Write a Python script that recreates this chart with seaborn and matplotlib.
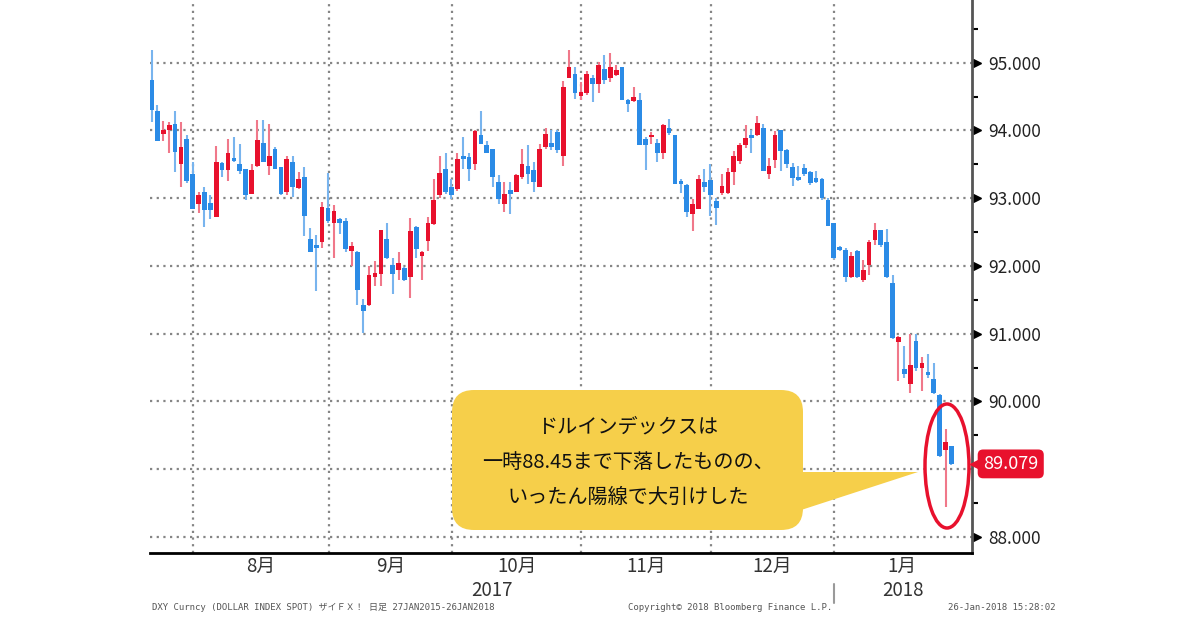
import numpy as np
import pandas as pd
import matplotlib
matplotlib.use("Agg")
import matplotlib.pyplot as plt
from matplotlib.patches import FancyBboxPatch, Polygon, Ellipse
import seaborn as sns

# daily DXY candles, 20 Jul 2017 - 26 Jan 2018 (weekdays)
START, END = "2017-07-20", "2018-01-26"

open_ = [94.75, 94.28, 93.95, 94.01, 94.10, 93.51, 93.88, 93.36, 92.92, 93.09,
         92.93, 92.72, 93.52, 93.41, 93.58, 93.51, 93.43, 93.06, 93.48, 93.81,
         93.48, 93.73, 93.46, 93.09, 93.53, 93.15, 93.31, 92.40, 92.31, 92.36,
         92.86, 92.64, 92.69, 92.67, 92.22, 92.20, 91.43, 91.43, 91.84, 91.88,
         92.40, 92.02, 91.94, 91.97, 91.83, 92.58, 92.15, 92.37, 92.62, 93.05,
         93.43, 93.16, 93.14, 93.63, 93.61, 93.50, 93.93, 93.78, 93.73, 93.24,
         92.91, 93.12, 93.09, 93.31, 93.48, 93.41, 93.16, 93.76, 93.81, 93.98,
         93.63, 94.77, 94.84, 94.51, 94.55, 94.77, 94.69, 94.90, 94.77, 94.82,
         94.94, 94.45, 94.44, 94.45, 93.87, 93.90, 93.81, 93.66, 94.03, 93.93,
         93.26, 93.19, 92.77, 92.84, 93.24, 93.27, 92.96, 93.07, 93.07, 93.38,
         93.55, 93.79, 93.94, 93.94, 94.04, 93.35, 93.57, 94.00, 93.71, 93.46,
         93.31, 93.45, 93.38, 93.30, 93.28, 92.98, 92.64, 92.28, 92.23, 91.84,
         92.22, 91.79, 92.01, 92.38, 92.53, 92.36, 91.75, 90.88, 90.48, 90.26,
         90.89, 90.50, 90.43, 90.33, 90.09, 89.29, 89.34]
high = [95.19, 94.37, 94.14, 94.13, 94.29, 94.13, 93.94, 93.53, 93.09, 93.16,
        93.04, 93.77, 93.53, 93.88, 93.90, 93.80, 93.43, 93.50, 94.16, 94.16,
        94.09, 93.76, 93.46, 93.62, 93.63, 93.39, 93.46, 92.56, 92.46, 92.94,
        93.37, 92.90, 92.71, 92.71, 92.36, 92.22, 91.51, 92.00, 92.08, 92.53,
        92.64, 92.12, 92.20, 91.98, 92.71, 92.59, 92.22, 92.72, 93.29, 93.63,
        93.66, 93.29, 93.67, 93.90, 93.66, 94.01, 94.29, 93.85, 93.73, 93.34,
        93.24, 93.24, 93.36, 93.73, 93.79, 93.53, 93.80, 94.03, 94.01, 94.01,
        94.73, 95.19, 94.94, 94.72, 94.87, 94.82, 95.01, 95.11, 95.15, 94.97,
        94.94, 94.47, 94.64, 94.55, 93.90, 93.98, 93.88, 94.10, 94.17, 93.93,
        93.28, 93.21, 92.99, 93.34, 93.43, 93.51, 93.00, 93.35, 93.45, 93.70,
        93.82, 94.08, 94.01, 94.21, 94.10, 93.60, 93.99, 94.00, 93.73, 93.52,
        93.47, 93.50, 93.40, 93.40, 93.30, 93.01, 92.64, 92.29, 92.26, 92.21,
        92.23, 92.09, 92.38, 92.63, 92.53, 92.55, 91.87, 90.96, 90.82, 91.00,
        91.00, 90.65, 90.70, 90.57, 90.11, 89.60, 89.35]
low = [94.13, 93.85, 93.85, 93.66, 93.39, 93.16, 93.23, 92.84, 92.78, 92.57,
       92.69, 92.72, 93.31, 93.26, 93.53, 93.36, 92.97, 93.06, 93.46, 93.53,
       93.34, 93.43, 93.04, 93.04, 93.02, 93.14, 92.44, 92.20, 91.63, 92.27,
       92.64, 92.12, 92.47, 92.20, 92.00, 91.43, 91.01, 91.41, 91.70, 91.70,
       92.10, 91.58, 91.80, 91.78, 91.53, 92.12, 91.79, 92.22, 92.60, 93.01,
       93.06, 92.99, 93.11, 93.43, 93.26, 93.41, 93.80, 93.66, 93.16, 92.92,
       92.79, 92.77, 93.09, 93.29, 93.21, 93.09, 93.16, 93.73, 93.71, 93.66,
       93.48, 94.77, 94.47, 94.45, 94.52, 94.42, 94.55, 94.69, 94.72, 94.80,
       94.45, 94.27, 94.42, 93.78, 93.41, 93.80, 93.53, 93.58, 93.93, 93.21,
       93.07, 92.72, 92.51, 92.84, 93.09, 92.73, 92.61, 93.05, 93.06, 93.20,
       93.50, 93.74, 93.67, 93.92, 93.40, 93.28, 93.45, 93.40, 93.45, 93.18,
       93.25, 93.33, 93.20, 93.23, 92.98, 92.59, 92.10, 92.22, 91.76, 91.82,
       91.82, 91.77, 91.87, 92.31, 92.28, 91.82, 90.92, 90.30, 90.35, 90.13,
       90.45, 90.16, 90.35, 90.11, 89.18, 88.45, 89.07]
close = [94.30, 93.85, 94.01, 94.08, 93.68, 93.76, 93.26, 92.84, 93.05, 92.82,
         92.83, 93.53, 93.41, 93.66, 93.55, 93.40, 93.05, 93.42, 93.86, 93.53,
         93.63, 93.43, 93.06, 93.58, 93.16, 93.28, 92.74, 92.20, 92.27, 92.87,
         92.67, 92.81, 92.64, 92.25, 92.30, 91.65, 91.33, 91.87, 91.90, 92.53,
         92.12, 91.88, 92.05, 91.80, 92.52, 92.25, 92.20, 92.64, 92.97, 93.37,
         93.09, 93.05, 93.58, 93.58, 93.43, 93.99, 93.80, 93.66, 93.31, 92.99,
         93.06, 93.06, 93.34, 93.51, 93.36, 93.24, 93.72, 93.95, 93.76, 93.71,
         94.64, 94.94, 94.55, 94.57, 94.84, 94.69, 94.97, 94.75, 94.93, 94.89,
         94.45, 94.39, 94.50, 93.78, 93.78, 93.94, 93.66, 94.08, 93.96, 93.21,
         93.21, 92.79, 92.92, 93.29, 93.16, 93.04, 92.86, 93.18, 93.38, 93.62,
         93.79, 93.89, 93.89, 94.11, 93.40, 93.47, 93.94, 93.70, 93.50, 93.30,
         93.27, 93.35, 93.23, 93.24, 93.00, 92.59, 92.12, 92.23, 91.84, 92.14,
         91.84, 91.94, 92.36, 92.53, 92.31, 91.84, 90.94, 90.95, 90.40, 90.54,
         90.50, 90.57, 90.39, 90.12, 89.19, 89.40, 89.079]

y_ticks = [88, 89, 90, 91, 92, 93, 94, 95]
callout_lines = ["ドルインデックスは", "一時88.45まで下落したものの、", "いったん陽線で大引けした"]
footer_left = "DXY Curncy (DOLLAR INDEX SPOT) ザイＦＸ！ 日足 27JAN2015-26JAN2018"
footer_mid = "Copyright© 2018 Bloomberg Finance L.P."
footer_right = "26-Jan-2018 15:28:02"

RED = "#e8112d"
BLUE = "#2b8be6"
RED_WICK = "#f0788a"
BLUE_WICK = "#78b4ee"
GRID = "#858585"

sns.set_style("white")
plt.rcParams["font.family"] = ["Noto Sans CJK JP", "DejaVu Sans"]

dates = pd.bdate_range(START, END)
df = pd.DataFrame({"open": open_, "high": high, "low": low, "close": close}, index=dates)
df["x"] = np.arange(len(df))
df["up"] = df["close"] >= df["open"]

# month boundaries and label centres (full calendar month width)
months = df.index.to_period("M")
bounds, centres, names = [], [], []
for m in months.unique()[1:]:
    b = df.loc[months == m, "x"].iloc[0] - 0.9
    n_full = len(pd.bdate_range(m.start_time, m.end_time))
    bounds.append(b)
    centres.append(b + n_full / 2)
    names.append(f"{m.month}月")

fig = plt.figure(figsize=(12, 6.3), dpi=100)
ax = fig.add_axes([150 / 1200, 77 / 630, 822 / 1200, 553 / 630])
x_lo, x_hi = -0.26, 139.5
ax.set_xlim(x_lo, x_hi)
ax.set_ylim(87.764, 95.925)

for y in y_ticks:
    ax.axhline(y, color=GRID, lw=1.6, ls=(0, (1, 2)), zorder=1)
for b in bounds:
    ax.axvline(b, color=GRID, lw=1.6, ls=(0, (1, 2)), zorder=1)

# candles
ax.vlines(df["x"], df["low"], df["high"],
          colors=np.where(df["up"], RED_WICK, BLUE_WICK), lw=1.5, zorder=2)
body_lo = df[["open", "close"]].min(axis=1)
body_h = (df["close"] - df["open"]).abs().clip(lower=0.04)
ax.bar(df["x"], body_h, bottom=body_lo, width=0.8,
       color=np.where(df["up"], RED, BLUE), linewidth=0, zorder=3)

sns.despine(ax=ax, left=True, top=True, right=False)
ax.spines["bottom"].set_color("black")
ax.spines["bottom"].set_linewidth(2)
ax.spines["right"].set_color("#555555")
ax.spines["right"].set_linewidth(2)

ax.yaxis.tick_right()
ax.set_yticks(y_ticks)
ax.set_yticklabels(["" if y == 89 else f"{y:.3f}" for y in y_ticks])
ax.set_yticks(np.arange(88.5, 95.6, 1.0), minor=True)
ax.tick_params(axis="y", which="major", length=0, pad=12, labelsize=12.5, labelcolor="#222222")
ax.tick_params(axis="y", which="minor", length=4, width=1.5, color="black", direction="out")
ytr = ax.get_yaxis_transform()
for y in y_ticks:
    if y != 89:
        ax.plot([1.006], [y], marker=">", ms=6, color="black", transform=ytr, clip_on=False)

ax.set_xticks(bounds)
ax.set_xticklabels([])
ax.tick_params(axis="x", length=5, width=1.5, color="black", direction="out")

xtr = ax.get_xaxis_transform()
for c, n in zip(centres, names):
    ax.text(c, -0.024, n, transform=xtr, ha="center", va="center", fontsize=13.5, color="#333333")
jan_b = bounds[-1]
ax.text((x_lo + jan_b) / 2, -0.068, "2017", transform=xtr, ha="center", va="center",
        fontsize=13.5, color="#333333")
ax.text((jan_b + x_hi) / 2, -0.068, "2018", transform=xtr, ha="center", va="center",
        fontsize=13.5, color="#333333")
ax.plot([jan_b, jan_b], [-0.056, -0.09], transform=xtr, clip_on=False, color="#9a9a9a", lw=1.5)

# last price tag
ax.plot([1.006], [close[-1]], marker="<", ms=10, color=RED, transform=ytr, clip_on=False, zorder=6)
ax.annotate(f"{close[-1]:.3f}", xy=(1.0, close[-1]), xycoords=("axes fraction", "data"),
            xytext=(8, 0), textcoords="offset points", ha="left", va="center",
            fontsize=13, color="white", annotation_clip=False, zorder=6,
            bbox=dict(boxstyle="round,pad=0.3", fc=RED, ec="none"))

# overlay in pixel units for callout, ellipse and footer
ov = fig.add_axes([0, 0, 1, 1], zorder=5)
ov.set_xlim(0, 1200)
ov.set_ylim(630, 0)
ov.axis("off")
ov.patch.set_alpha(0)

YELLOW = "#f6cf4a"
ov.add_patch(FancyBboxPatch((452, 390), 351, 140, boxstyle="round,pad=0,rounding_size=22",
                            fc=YELLOW, ec="none"))
ov.add_patch(Polygon([(795, 472), (918, 472), (795, 512)], closed=True, fc=YELLOW, ec="none"))
for i, line in enumerate(callout_lines):
    ov.text(628, 427 + 35 * i, line, ha="center", va="center", fontsize=14.5, color="#111111")

ov.add_patch(Ellipse((947, 466), 44, 124, fill=False, ec=RED, lw=2.5))

mono = ["DejaVu Sans Mono", "Noto Sans CJK JP"]
ov.text(152, 607, footer_left, ha="left", va="center", fontsize=6.5, color="#555555", family=mono)
ov.text(628, 607, footer_mid, ha="left", va="center", fontsize=6.5, color="#555555", family=mono)
ov.text(1055, 607, footer_right, ha="right", va="center", fontsize=6.5, color="#555555", family=mono)

fig.savefig("out.png", dpi=100)
plt.close(fig)
